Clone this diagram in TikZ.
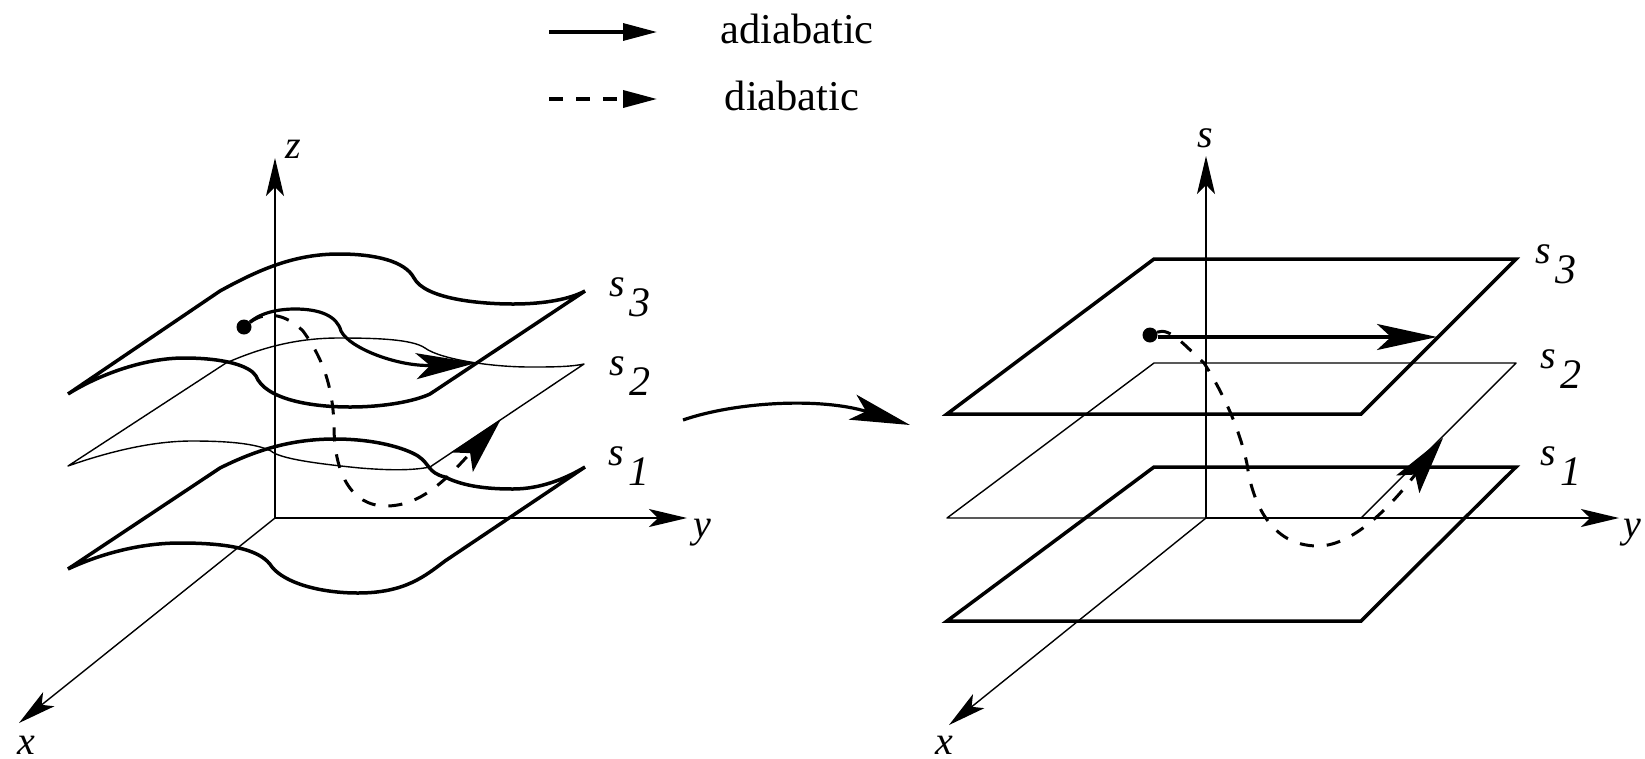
\documentclass[tikz,border=0pt]{standalone}
\usepackage{fontspec}
\setmainfont{Liberation Serif}
\usetikzlibrary{arrows.meta}

\newcommand{\slabel}[1]{s\kern5pt\raisebox{-0.5em}{\fontsize{42}{46}\selectfont #1}}

\begin{document}
\begin{tikzpicture}[
  x=1pt, y=-1pt,
  >=Stealth,
  axis/.style={line width=1.4pt, -{Stealth[length=38pt, width=18pt, inset=9pt]}},
  surf/.style={line width=3.5pt, line join=miter},
  thinsurf/.style={line width=1.4pt, line join=round},
  adia/.style={line width=3.2pt, -{Stealth[length=60pt, width=26pt, inset=14pt]}},
  dia/.style={line width=3pt, dash pattern=on 14pt off 13pt, -{Stealth[length=58pt, width=29pt, inset=12pt]}},
  legadia/.style={line width=3.2pt, -{Stealth[length=34pt, width=17pt, inset=0pt]}},
  legdia/.style={line width=3.5pt, dash pattern=on 14pt off 13pt, -{Stealth[length=34pt, width=17pt, inset=0pt]}},
  dot/.style={circle, fill=black, inner sep=0pt, minimum size=15pt},
  lab/.style={font=\fontsize{40}{44}\selectfont\itshape, inner sep=0pt},
  txt/.style={font=\fontsize{42.5}{46}\selectfont, inner sep=0pt},
  trans/.style={line width=3.2pt, -{Stealth[length=60pt, width=26pt, inset=14pt]}},
]
\useasboundingbox (0,-1) rectangle (1645,757);

% Legend
\coordinate (lega) at (549,31);
\coordinate (legaend) at (657,31);
\coordinate (legd) at (549,98);
\coordinate (legdend) at (657,98);
\draw[legadia] (lega) -- (legaend);
\draw[legdia] (legd) -- (legdend);
\node[txt] (adiatext) at (797,28) {adiabatic};
\node[txt] (diatext) at (792,95) {diabatic};

% Left axes
\coordinate (ol) at (275,517);
\coordinate (zl) at (275,157);
\coordinate (yl) at (687,517);
\coordinate (xl) at (19,722);
\draw[axis] (ol) -- (zl);
\draw[axis] (ol) -- (yl);
\draw[axis] (ol) -- (xl);
\node[lab] (zlabel) at (293,148) {z};
\node[lab] (ylabel) at (702,532) {y};
\node[lab] (xlabel) at (26,744) {x};

% Left surfaces
\draw[surf] (68,393) -- (220,290)
  .. controls (260,268) and (295,253) .. (339,253)
  .. controls (375,253) and (405,260) .. (414,277)
  .. controls (425,298) and (480,303) .. (513,303)
  .. controls (545,303) and (570,298) .. (585,290)
  -- (430,393)
  .. controls (415,400) and (385,406) .. (350,406)
  .. controls (310,406) and (265,398) .. (256,375)
  .. controls (250,365) and (225,357) .. (184,357)
  .. controls (145,357) and (100,373) .. cycle;
\draw[thinsurf] (68,465) -- (226,362)
  .. controls (265,345) and (300,337) .. (339,337)
  .. controls (375,337) and (412,338) .. (425,347)
  .. controls (440,358) and (490,366) .. (530,366)
  .. controls (550,366) and (570,366) .. (584,363)
  -- (430,466)
  .. controls (410,470) and (385,469) .. (360,467)
  .. controls (320,463) and (280,458) .. (271,450)
  .. controls (255,442) and (225,440) .. (192,440)
  .. controls (150,440) and (105,452) .. cycle;
\draw[surf] (68,568) -- (220,467)
  .. controls (260,447) and (295,438) .. (335,438)
  .. controls (375,438) and (405,447) .. (418,455)
  .. controls (430,463) and (428,472) .. (445,476)
  .. controls (465,486) and (490,488) .. (513,488)
  .. controls (540,488) and (565,478) .. (585,466)
  -- (445,560)
  .. controls (425,575) and (405,592) .. (358,592)
  .. controls (320,592) and (285,582) .. (272,566)
  .. controls (262,550) and (235,542) .. (180,542)
  .. controls (140,542) and (100,553) .. cycle;

% Left paths
\node[dot] (startl) at (244,326) {};
\coordinate (adial) at (476,362);
\coordinate (dial) at (501,418);
\draw[dia] (startl)
  .. controls (265,310) and (285,312) .. (303,330)
  .. controls (325,360) and (333,390) .. (334,425)
  .. controls (334,470) and (350,505) .. (386,505)
  .. controls (420,505) and (445,480) .. (dial);
\draw[adia] (startl)
  .. controls (262,311) and (280,308) .. (295,308)
  .. controls (320,308) and (337,315) .. (341,330)
  .. controls (350,348) and (400,366) .. (adial);
\node[lab] (s3l) at (630,296) {\slabel{3}};
\node[lab] (s2l) at (630,375) {\slabel{2}};
\node[lab] (s1l) at (629,465) {\slabel{1}};

% Arrow between panels
\coordinate (transa) at (683,419);
\coordinate (transb) at (910,424);
\draw[trans] (transa) .. controls (735,401) and (820,396) .. (transb);

% Right axes
\coordinate (or) at (1206,517);
\coordinate (zr) at (1206,155);
\coordinate (yr) at (1619,517);
\coordinate (xr) at (949,724);
\draw[axis] (or) -- (zr);
\draw[axis] (or) -- (yr);
\draw[axis] (or) -- (xr);
\node[lab] (zlabelr) at (1205,137) {s};
\node[lab] (ylabelr) at (1632,532) {y};
\node[lab] (xlabelr) at (944,744) {x};

% Right planes
\draw[surf] (947,413) -- (1154,258) -- (1516,258) -- (1361,413) -- cycle;
\draw[thinsurf] (947,517) -- (1154,362) -- (1516,362) -- (1361,517) -- cycle;
\draw[surf] (947,620) -- (1154,466) -- (1516,466) -- (1361,620) -- cycle;

% Right paths
\node[dot] (startr) at (1150,334) {};
\coordinate (adiar) at (1437,336);
\coordinate (diar) at (1443,437);
\draw[dia] (startr)
  .. controls (1170,326) and (1185,345) .. (1204,362)
  .. controls (1225,395) and (1240,430) .. (1247,463)
  .. controls (1252,500) and (1270,545) .. (1318,545)
  .. controls (1355,545) and (1395,500) .. (diar);
\draw[adia] (startr.east |- adiar) -- (adiar);
\node[lab] (s3r) at (1556,263) {\slabel{3}};
\node[lab] (s2r) at (1561,368) {\slabel{2}};
\node[lab] (s1r) at (1561,465) {\slabel{1}};
\end{tikzpicture}
\end{document}
